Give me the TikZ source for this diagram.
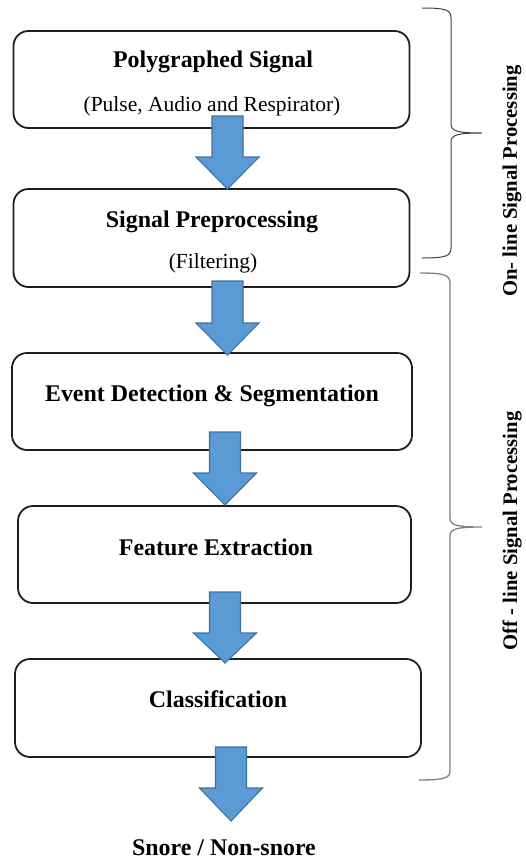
\documentclass[tikz,border=0pt]{standalone}
\usepackage{fontspec}
\setmainfont{Liberation Serif}
\definecolor{arrowfill}{HTML}{5B9BD5}
\definecolor{arrowline}{HTML}{41719C}
\definecolor{boxline}{HTML}{1E1E1E}
\newcommand\blockarrow[4]{%
  \draw[barrow] (#1-15.5,#2) -- (#1+15.5,#2) -- (#1+15.5,#3) -- (#1+31.5,#3)
    -- (#1,#4) -- (#1-31.5,#3) -- (#1-15.5,#3) -- cycle;}
\begin{document}
\begin{tikzpicture}[x=1pt,y=-1pt,
  stepbox/.style={draw=boxline, line width=1.8pt, rounded corners=15pt, inner sep=0pt, fill=white},
  title/.style={anchor=base, inner sep=0pt, font=\fontsize{23.9}{28}\selectfont\bfseries},
  subtitle/.style={anchor=base, inner sep=0pt, font=\fontsize{21.5}{26}\selectfont},
  sidelabel/.style={rotate=90, inner sep=0pt, font=\fontsize{20.7}{24}\selectfont\bfseries},
  barrow/.style={fill=arrowfill, draw=arrowline, line width=1.1pt, line join=miter},
  bracea/.style={draw=black!75, line width=1pt},
  braceb/.style={draw=black!50, line width=1.3pt}]
\useasboundingbox (0,0) rectangle (526,863);
% boxes
\node[stepbox, minimum width=396pt, minimum height=97pt] (b1) at (211.5,79.5) {};
\node[stepbox, minimum width=396pt, minimum height=98pt] (b2) at (211.5,238) {};
\node[stepbox, minimum width=400pt, minimum height=97pt] (b3) at (212,401.5) {};
\node[stepbox, minimum width=393pt, minimum height=97pt] (b4) at (214.5,554.5) {};
\node[stepbox, minimum width=406pt, minimum height=98pt] (b5) at (218,708) {};
% texts
\node[title] (t1) at (213,67) {Polygraphed Signal};
\node[subtitle] (s1) at (212,111) {(Pulse, Audio and Respirator)};
\node[title] (t2) at (212,227) {Signal Preprocessing};
\node[subtitle] (s2) at (213,268) {(Filtering)};
\node[title] (t3) at (212,401) {Event Detection \& Segmentation};
\node[title] (t4) at (216,555) {Feature Extraction};
\node[title] (t5) at (218,707) {Classification};
\node[title] (out) at (224,855) {Snore / Non-snore};
% block arrows
\blockarrow{227.5}{116}{157}{189}
\blockarrow{227.5}{281}{323}{355}
\blockarrow{225}{432}{473}{505}
\blockarrow{225}{592}{633}{663}
\blockarrow{231}{747}{788}{821}
% braces
\draw[bracea] (422,8) .. controls (446,8) and (451,10) .. (451,18)
  -- (451,124) .. controls (451,131) and (457,133) .. (482,133)
  .. controls (457,133) and (451,135) .. (451,142)
  -- (451,248) .. controls (451,256) and (446,258) .. (422,258);
\draw[braceb] (420,273) .. controls (444,273) and (450,275) .. (450,283)
  -- (450,518) .. controls (450,525) and (456,527) .. (482,527)
  .. controls (456,527) and (450,529) .. (450,536)
  -- (450,771) .. controls (450,778) and (444,780) .. (419,780);
\node[sidelabel] (on) at (512,181) {On- line Signal Processing};
\node[sidelabel] (off) at (512,531) {Off - line Signal Processing};
\end{tikzpicture}
\end{document}
